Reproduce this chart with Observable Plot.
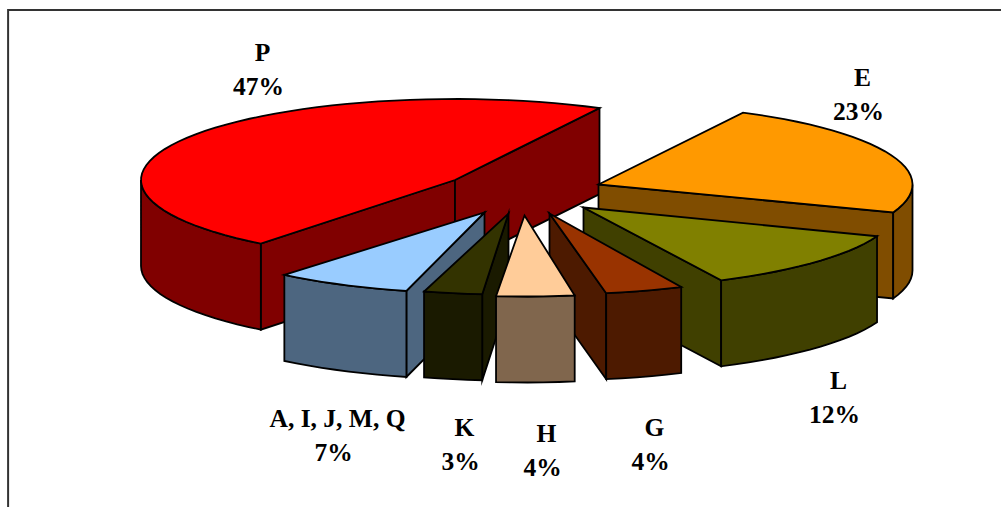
<!DOCTYPE html>
<html>
<head>
<meta charset="utf-8">
<script src="https://cdn.jsdelivr.net/npm/d3@7"></script>
<script src="https://cdn.jsdelivr.net/npm/@observablehq/plot@0.6"></script>
<style>
  html, body { margin: 0; padding: 0; background: #fff; }
  svg { display: block; }
</style>
</head>
<body>
<div id="chart"></div>
<script>
// Share of each category, listed clockwise from the first slice.
const categories = ["E", "L", "G", "H", "K", "A, I, J, M, Q", "P"];
const shares = [23, 12, 4, 4, 3, 7, 47];

// Slice colours; the side walls use the same hue at half brightness.
const topColors = ["#ff9900", "#808000", "#993300", "#ffcc99", "#333300", "#99ccff", "#ff0000"];

// Pie geometry in chart units.
const radiusX = 314;
const radiusY = 81;
const depth = 86;
const startAngle = 62;
const centerX = 520;
const centerY = 200;

// How far each slice is pulled out of the pie.
const explodeX = [78, 63, 29, 4, -12, -36, -65.5];
const explodeY = [-16, 7, 13, 15, 13, 12, -20.5];

// Small extra turn of each slice, in degrees; the sweep itself stays the share.
const sliceTurn = [0.6, 0, -1.2, -2.4, -2, -0.8, 0.6];

// Label anchors for the name line, relative to the slice's pull-out point.
const labelDX = [264, 255, 105, 22, -44, -147, -192.5];
const labelDY = [-99, 181, 222, 226, 222, 214, -119.5];

// Back slices are painted first so that nearer ones overlap them.
const paintOrder = [6, 0, 1, 2, 5, 4, 3];

const rad = (deg) => (deg * Math.PI) / 180;

function rimPoints(x0, y0, from, to) {
  const n = Math.max(1, Math.ceil(Math.abs(to - from) / 3));
  return d3.range(n + 1).map((i) => {
    const t = rad(from + ((to - from) * i) / n);
    return [x0 + radiusX * Math.cos(t), y0 - radiusY * Math.sin(t)];
  });
}

// Angles run clockwise, so each slice spans a decreasing range.
let cursor = startAngle;
const slices = categories.map((name, i) => {
  const sweep = (shares[i] / 100) * 360;
  const from = cursor + sliceTurn[i];
  const to = from - sweep;
  cursor -= sweep;
  return {name, share: shares[i], from, to,
    x0: centerX + explodeX[i], y0: centerY + explodeY[i]};
});

const faces = [];
function addFace(id, color, points) {
  points.forEach(([x, y]) => faces.push({face: id, color, x, y}));
}

for (const k of paintOrder) {
  const s = slices[k];
  const top = topColors[k];
  const c = d3.color(top);
  const wall = d3.rgb(c.r / 2, c.g / 2, c.b / 2).formatRgb();
  const {x0, y0, from, to} = s;
  const drop = ([x, y]) => [x, y + depth];

  // Flat cut faces are seen only when they turn towards the viewer.
  const cut = (angle, name) => {
    const [rim] = rimPoints(x0, y0, angle, angle);
    addFace(`${k}-${name}`, wall, [[x0, y0], rim, drop(rim), drop([x0, y0])]);
  };
  if (Math.cos(rad(from)) < 0) cut(from, "start");
  if (Math.cos(rad(to)) > 0) cut(to, "end");

  // The curved outer wall shows on the front half of the ellipse only.
  const start = Math.min(from, 0);
  const end = Math.max(to, -180);
  if (start > end) {
    const arc = rimPoints(x0, y0, start, end);
    addFace(`${k}-wall`, wall, [...arc, ...arc.slice().reverse().map(drop)]);
  }

  addFace(`${k}-top`, top, [[x0, y0], ...rimPoints(x0, y0, from, to)]);
}

const labels = slices.map((s, i) => ({
  name: s.name,
  pct: `${s.share}%`,
  x: s.x0 + labelDX[i],
  y: s.y0 + labelDY[i]
}));

const textStyle = {
  fontFamily: "'Liberation Serif', 'Times New Roman', serif",
  fontWeight: "bold",
  fontSize: 25.5,
  fill: "#000",
  textAnchor: "middle",
  lineAnchor: "bottom"
};

const chart = Plot.plot({
  width: 1001,
  height: 507,
  margin: 0,
  style: {background: "#fff", overflow: "hidden"},
  x: {domain: [0, 1001], range: [0, 1001], axis: null},
  y: {domain: [0, 507], range: [0, 507], axis: null},
  color: {type: "identity"},
  marks: [
    Plot.ruleY([9.6], {x1: 8, x2: 1001, stroke: "#333", strokeWidth: 2}),
    Plot.ruleX([7.6], {y1: 9, y2: 507, stroke: "#333", strokeWidth: 2}),
    Plot.line(faces, {
      x: "x",
      y: "y",
      z: "face",
      fill: "color",
      stroke: "#000",
      strokeWidth: 1.8,
      strokeLinejoin: "miter",
      strokeMiterlimit: 8,
      curve: "linear-closed"
    }),
    Plot.text(labels, {x: "x", y: "y", text: "name", ...textStyle}),
    Plot.text(labels, {x: "x", y: "y", text: "pct", dx: -4, dy: 34, ...textStyle})
  ]
});

document.getElementById("chart").append(chart);
</script>
</body>
</html>
